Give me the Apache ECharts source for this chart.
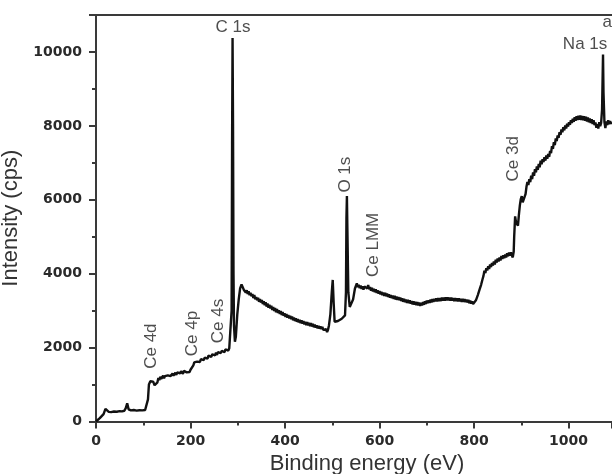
<!DOCTYPE html>
<html>
<head>
<meta charset="utf-8">
<script src="https://cdn.jsdelivr.net/npm/echarts@6/dist/echarts.min.js"></script>
<style>
  html, body { margin: 0; padding: 0; background: #fff; }
  #chart { width: 612px; height: 474px; }
</style>
</head>
<body>
<div id="chart"></div>
<script>
// XPS survey spectrum, pairs of [binding energy (eV), intensity (cps)]
const spectrumLow = [
  [0, 0], [4, 40], [8, 90], [12, 120], [16, 200], [20, 340], [23, 320], [27, 260], [32, 255], [38, 270],
  [44, 265], [50, 280], [55, 275], [60, 290], [63, 360], [66, 490], [69, 330], [74, 300], [80, 310], [86, 295],
  [92, 305], [98, 300], [104, 310], [108, 330], [110, 600], [112, 1000], [115, 1090], [118, 1130], [121, 1080],
  [124, 980], [127, 960], [130, 1060], [132, 1180], [134, 1120], [136, 1210], [138, 1150], [140, 1190], [142, 1240],
  [144, 1170], [146, 1230], [148, 1260], [150, 1190], [152, 1250], [154, 1220], [156, 1280], [158, 1230], [160, 1270],
  [162, 1300], [164, 1240], [166, 1290], [168, 1320], [170, 1260], [172, 1330], [174, 1290], [176, 1350], [178, 1300],
  [180, 1360], [182, 1320], [184, 1290], [186, 1370], [188, 1340], [190, 1390], [192, 1330], [194, 1360], [196, 1300],
  [198, 1340], [200, 1400], [202, 1380], [204, 1450], [206, 1520], [208, 1600], [210, 1650], [212, 1570], [214, 1620],
  [216, 1580], [218, 1660], [220, 1610], [222, 1690], [224, 1640], [226, 1710], [228, 1660], [230, 1730], [232, 1680],
  [234, 1760], [236, 1700], [238, 1780], [240, 1730], [242, 1800], [244, 1750], [246, 1820], [248, 1770], [250, 1830],
  [252, 1790], [254, 1860], [256, 1800], [258, 1880], [260, 1830], [262, 1900], [264, 1850], [266, 1910], [268, 1870],
  [270, 1930], [272, 1880], [274, 1950], [276, 1900], [278, 1960], [280, 1920], [282, 1980], [285, 1990]
];
const spectrumC1s = [
  [287, 3000], [288, 7500], [289, 10380], [290, 8000], [291, 4000], [292, 2600], [294, 2160], [296, 2300],
  [299, 2900], [302, 3300], [305, 3600], [308, 3710], [311, 3680], [313, 3560], [315, 3600], [317, 3490], [319, 3550],
  [321, 3450], [323, 3520], [325, 3420], [327, 3480], [329, 3390], [331, 3450], [333, 3340], [335, 3420], [337, 3310],
  [339, 3370], [341, 3280], [343, 3350], [345, 3240], [347, 3310], [349, 3220], [351, 3290], [353, 3180], [355, 3250],
  [357, 3150], [359, 3230], [361, 3110], [363, 3190], [365, 3080], [367, 3160], [369, 3060], [371, 3130], [373, 3020],
  [375, 3100], [377, 2990], [379, 3070], [381, 2960], [383, 3040], [385, 2940], [387, 3010], [389, 2910], [391, 2990],
  [393, 2880], [395, 2960], [397, 2860], [399, 2930], [401, 2830], [403, 2910], [405, 2810], [407, 2880], [409, 2790],
  [411, 2860], [413, 2770], [415, 2840], [417, 2740], [419, 2810], [421, 2720], [423, 2790], [425, 2700], [427, 2770],
  [429, 2680], [431, 2750], [433, 2660], [435, 2740], [437, 2650], [439, 2720], [441, 2630], [443, 2700], [445, 2610],
  [447, 2690], [449, 2600], [451, 2670], [453, 2580], [455, 2660], [457, 2570], [459, 2640], [461, 2550], [463, 2620],
  [465, 2540], [467, 2600], [469, 2520], [471, 2590], [473, 2510], [475, 2570], [477, 2500], [479, 2560], [481, 2480],
  [483, 2530], [485, 2460], [487, 2500], [489, 2420], [491, 2480]
];
const spectrumO1s = [
  [493, 2600], [496, 2900], [499, 3500], [501, 3830], [503, 3200], [505, 2700], [508, 2680], [512, 2720], [516, 2760],
  [520, 2780], [524, 2820], [527, 2870], [529, 3500], [530, 5500], [531, 6100], [532, 5200], [534, 3500], [537, 3100],
  [541, 3060], [544, 3300], [548, 3600], [552, 3740], [554, 3640], [556, 3700], [558, 3610], [560, 3680], [562, 3590],
  [564, 3660], [566, 3570], [568, 3650], [570, 3610], [572, 3700], [574, 3600], [576, 3690], [578, 3580], [580, 3640],
  [582, 3540], [584, 3620], [586, 3520], [588, 3590], [590, 3500], [592, 3580], [594, 3480], [596, 3550], [598, 3460],
  [600, 3530], [602, 3440], [604, 3510], [606, 3420], [608, 3490], [610, 3400], [612, 3480], [614, 3390], [616, 3460],
  [618, 3370], [620, 3440], [622, 3350], [624, 3420], [626, 3340], [628, 3410], [630, 3320], [632, 3400], [634, 3300],
  [636, 3380], [638, 3290], [640, 3370], [642, 3280], [644, 3350], [646, 3260], [648, 3330], [650, 3240], [652, 3320],
  [654, 3230], [656, 3300], [658, 3210], [660, 3290], [662, 3200], [664, 3280], [666, 3190], [668, 3260], [670, 3170],
  [672, 3250], [674, 3160], [676, 3240], [678, 3150], [680, 3230], [682, 3140], [684, 3220], [686, 3130], [688, 3210],
  [690, 3140], [692, 3230], [694, 3160], [696, 3250], [698, 3180], [700, 3270], [702, 3200], [704, 3280], [706, 3210],
  [708, 3300], [710, 3220], [712, 3310], [714, 3240], [716, 3320], [718, 3250], [720, 3330], [722, 3250], [724, 3340],
  [726, 3260], [728, 3340], [730, 3260], [732, 3350], [734, 3270], [736, 3350], [738, 3270], [740, 3360], [742, 3280],
  [744, 3360], [746, 3280], [748, 3350], [750, 3270], [752, 3350], [754, 3270], [756, 3340], [758, 3260], [760, 3340],
  [762, 3260], [764, 3330], [766, 3250], [768, 3330], [770, 3250], [772, 3320], [774, 3240], [776, 3320], [778, 3240],
  [780, 3310], [782, 3230], [784, 3300], [786, 3220], [788, 3290], [790, 3200], [792, 3270], [794, 3190], [796, 3250],
  [798, 3180], [800, 3230]
];
const spectrumCe3d = [
  [804, 3280], [808, 3420], [812, 3580], [815, 3700], [818, 3850], [820, 3940], [822, 4080], [824, 4020], [826, 4150],
  [828, 4090], [830, 4200], [832, 4130], [834, 4250], [836, 4180], [838, 4290], [840, 4220], [842, 4330], [844, 4250],
  [846, 4380], [848, 4300], [850, 4410], [852, 4330], [854, 4440], [856, 4360], [858, 4480], [860, 4400], [862, 4500],
  [864, 4420], [866, 4520], [868, 4440], [870, 4550], [872, 4470], [874, 4570], [876, 4490], [878, 4580], [880, 4500],
  [882, 4440], [884, 4600], [885, 5000], [887, 5550], [889, 5380], [891, 5420], [893, 5300], [895, 5600], [897, 5850],
  [899, 6020], [901, 6100], [903, 5930], [905, 5980], [907, 5900], [909, 6150], [911, 6350], [913, 6480], [915, 6400],
  [917, 6560], [919, 6480], [921, 6650], [923, 6560], [925, 6740], [927, 6650], [929, 6830], [931, 6740], [933, 6900],
  [935, 6810], [937, 6970], [939, 6880], [941, 7060], [943, 6960], [945, 7100], [947, 7020], [949, 7150], [951, 7060],
  [953, 7200], [955, 7110], [957, 7240], [959, 7160], [961, 7320], [963, 7260], [965, 7450], [967, 7380], [969, 7560],
  [971, 7480], [973, 7660], [975, 7590], [977, 7740], [979, 7680], [981, 7830], [983, 7760], [985, 7900], [987, 7830],
  [989, 7960], [991, 7880], [993, 8010], [995, 7930], [997, 8060], [999, 7980], [1001, 8100], [1003, 8030], [1005, 8150],
  [1007, 8080], [1009, 8190], [1011, 8110], [1013, 8230], [1015, 8140], [1017, 8260], [1019, 8160], [1021, 8270],
  [1023, 8170], [1025, 8280], [1027, 8160], [1029, 8270], [1031, 8150], [1033, 8260], [1035, 8140], [1037, 8250],
  [1039, 8120], [1041, 8230], [1043, 8100], [1045, 8200], [1047, 8080], [1049, 8180], [1051, 8050], [1053, 8150],
  [1055, 8020], [1057, 8090], [1059, 7950], [1061, 8040], [1063, 7930], [1065, 8100], [1067, 7990], [1069, 8080],
  [1071, 8450], [1073, 9930], [1074, 8900], [1076, 8100], [1078, 7940], [1080, 8120], [1082, 8020], [1084, 8150],
  [1086, 8050], [1088, 8130], [1090, 8060], [1092, 8100]
];

// peak assignments
const peakNames = ['C 1s', 'Na 1s', 'O 1s', 'Ce LMM', 'Ce 3d', 'Ce 4d', 'Ce 4p', 'Ce 4s'];
// label anchors in data units (eV, cps) and text rotation
const peakLabelAt = [
  [290, 10660, 0], [1035, 10220, 0], [527, 6680, 90], [587, 4780, 90],
  [883, 7110, 90], [118, 2040, 90], [203, 2380, 90], [259, 2720, 90]
];
const panelTag = 'a';

const xTicks = { min: 0, max: 1092, interval: 200 };
const yTicks = { min: 0, max: 11000, interval: 2000 };

const spectrum = [].concat(spectrumLow, spectrumC1s, spectrumO1s, spectrumCe3d);
const labelData = peakNames.map((n, i) => ({
  value: [peakLabelAt[i][0], peakLabelAt[i][1]],
  name: n,
  label: { rotate: peakLabelAt[i][2] }
}));
labelData.push({ value: [1082, 10800], name: panelTag, label: { rotate: 0 } });

const axisColor = '#3a3a3a';
const plain = v => String(v);
const chart = echarts.init(document.getElementById('chart'), null, { renderer: 'canvas' });
chart.setOption({
  animation: false,
  backgroundColor: '#ffffff',
  grid: { left: 96, right: 0, top: 15, bottom: 52.5, containLabel: false, outerBoundsMode: 'none' },
  xAxis: [{
    type: 'value',
    min: xTicks.min, max: xTicks.max, interval: xTicks.interval,
    name: 'Binding energy (eV)',
    nameLocation: 'middle',
    nameGap: 29,
    nameTextStyle: { fontFamily: 'Liberation Sans', fontSize: 22, color: '#333', padding: [0, 0, 0, 26] },
    axisLine: { show: true, onZero: false, lineStyle: { color: axisColor, width: 2 } },
    axisTick: { show: true, inside: false, length: 7, lineStyle: { color: axisColor, width: 2 } },
    minorTick: { show: true, splitNumber: 2, length: 4, lineStyle: { color: axisColor, width: 2 } },
    axisLabel: { formatter: plain, showMaxLabel: false, margin: 13, fontFamily: 'DejaVu Sans', fontWeight: 'bold', fontSize: 14, color: '#2a2a2a' },
    splitLine: { show: false }
  }, {
    type: 'value', position: 'top',
    min: xTicks.min, max: xTicks.max,
    axisLine: { show: true, onZero: false, lineStyle: { color: axisColor, width: 2 } },
    axisTick: { show: false }, axisLabel: { show: false }, splitLine: { show: false }
  }],
  yAxis: {
    type: 'value',
    min: yTicks.min, max: yTicks.max, interval: yTicks.interval,
    name: 'Intensity (cps)',
    nameLocation: 'middle',
    nameGap: 64,
    nameRotate: 90,
    nameTextStyle: { fontFamily: 'Liberation Sans', fontSize: 22, color: '#333' },
    axisLine: { show: true, onZero: false, lineStyle: { color: axisColor, width: 2 } },
    axisTick: { show: true, inside: false, length: 7, lineStyle: { color: axisColor, width: 2 } },
    minorTick: { show: true, splitNumber: 2, length: 4, lineStyle: { color: axisColor, width: 2 } },
    axisLabel: { formatter: plain, showMaxLabel: false, margin: 14, fontFamily: 'DejaVu Sans', fontWeight: 'bold', fontSize: 14, color: '#2a2a2a' },
    splitLine: { show: false }
  },
  series: [{
    type: 'line',
    data: spectrum,
    showSymbol: false,
    symbol: 'none',
    sampling: null,
    lineStyle: { color: '#111', width: 2.4 },
    silent: true
  }, {
    type: 'scatter',
    data: labelData,
    symbolSize: 0,
    silent: true,
    label: {
      show: true,
      position: 'inside',
      formatter: p => p.name,
      fontFamily: 'Liberation Sans',
      fontSize: 17,
      color: '#222'
    }
  }]
});
</script>
</body>
</html>
